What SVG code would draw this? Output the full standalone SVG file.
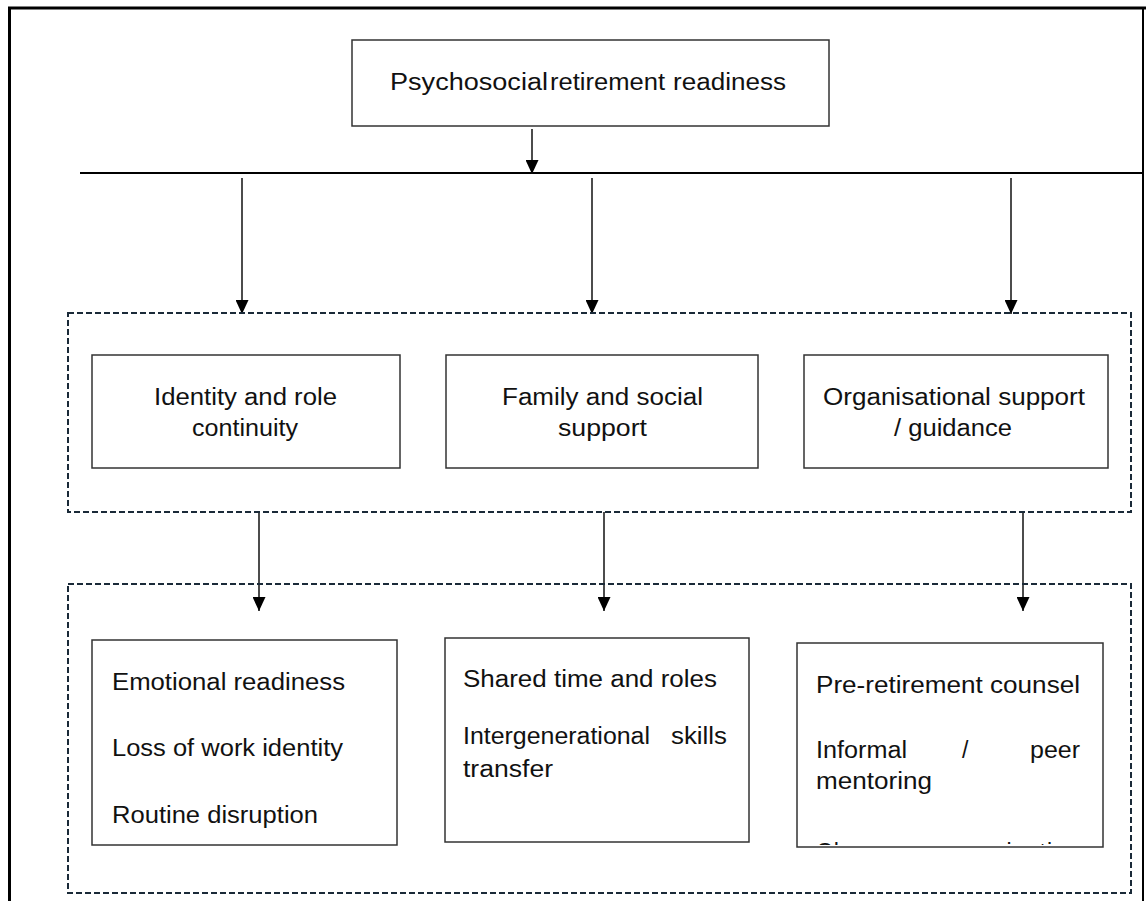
<svg xmlns="http://www.w3.org/2000/svg" width="1146" height="901" viewBox="0 0 1146 901">
<style>
.t{font-family:"Liberation Sans",Arial,sans-serif;font-size:23px;fill:#111}
.box{fill:#fff;stroke:#333;stroke-width:1.5}
.grp{fill:none;stroke:#1a2a38;stroke-width:2;stroke-dasharray:6 3}
.ln{stroke:#111;stroke-width:1.5;fill:none}
</style>
<defs>
<marker id="ah" markerUnits="userSpaceOnUse" markerWidth="14" markerHeight="13" viewBox="0 0 14 13" refX="14" refY="6.5" orient="auto">
<path d="M0,0 L14,6.5 L0,13 z" fill="#000"/>
</marker>
<clipPath id="clipC"><rect x="797" y="643" width="306" height="202"/></clipPath>
</defs>
<rect width="1146" height="901" fill="#fff"/>
<g id="frame">
<line x1="9.5" y1="7" x2="9.5" y2="901" stroke="#000" stroke-width="3"/>
<line x1="8" y1="8" x2="1146" y2="8" stroke="#000" stroke-width="3"/>
<line x1="1143" y1="7" x2="1143" y2="901" stroke="#000" stroke-width="2"/>
</g>
<g id="top">
<rect class="box" x="352" y="40" width="477" height="86"/>
<text class="t" x="390" y="90" textLength="158" lengthAdjust="spacingAndGlyphs">Psychosocial</text>
<text class="t" x="550" y="90" textLength="115" lengthAdjust="spacingAndGlyphs">retirement</text>
<text class="t" x="673" y="90" textLength="113" lengthAdjust="spacingAndGlyphs">readiness</text>
</g>
<g id="connectors">
<line x1="80" y1="173" x2="1143" y2="173" stroke="#000" stroke-width="2"/>
<line class="ln" x1="532" y1="129" x2="532" y2="174" marker-end="url(#ah)"/>
<line class="ln" x1="242" y1="178" x2="242" y2="314" marker-end="url(#ah)"/>
<line class="ln" x1="592" y1="178" x2="592" y2="314" marker-end="url(#ah)"/>
<line class="ln" x1="1011" y1="178" x2="1011" y2="314" marker-end="url(#ah)"/>
<line class="ln" x1="259" y1="512" x2="259" y2="611" marker-end="url(#ah)"/>
<line class="ln" x1="604" y1="512" x2="604" y2="611" marker-end="url(#ah)"/>
<line class="ln" x1="1023" y1="512" x2="1023" y2="611" marker-end="url(#ah)"/>
</g>
<g id="group1">
<rect class="grp" x="68" y="313" width="1063" height="199"/>
</g>
<g id="group2">
<rect class="grp" x="68" y="584" width="1063" height="309"/>
</g>
<g id="identity">
<rect class="box" x="92" y="355" width="308" height="113"/>
<text class="t" x="154" y="405" textLength="183" lengthAdjust="spacingAndGlyphs">Identity and role</text>
<text class="t" x="192" y="436" textLength="106" lengthAdjust="spacingAndGlyphs">continuity</text>
</g>
<g id="family">
<rect class="box" x="446" y="355" width="312" height="113"/>
<text class="t" x="502" y="405" textLength="201" lengthAdjust="spacingAndGlyphs">Family and social</text>
<text class="t" x="558" y="436" textLength="89" lengthAdjust="spacingAndGlyphs">support</text>
</g>
<g id="organisational">
<rect class="box" x="804" y="355" width="304" height="113"/>
<text class="t" x="823" y="405" textLength="262" lengthAdjust="spacingAndGlyphs">Organisational support</text>
<text class="t" x="894" y="436" textLength="118" lengthAdjust="spacingAndGlyphs">/ guidance</text>
</g>
<g id="emotional">
<rect class="box" x="92" y="640" width="305" height="205"/>
<text class="t" x="112" y="690" textLength="233" lengthAdjust="spacingAndGlyphs">Emotional readiness</text>
<text class="t" x="112" y="756" textLength="231" lengthAdjust="spacingAndGlyphs">Loss of work identity</text>
<text class="t" x="112" y="823" textLength="206" lengthAdjust="spacingAndGlyphs">Routine disruption</text>
</g>
<g id="shared">
<rect class="box" x="445" y="638" width="304" height="204"/>
<text class="t" x="463" y="687" textLength="254" lengthAdjust="spacingAndGlyphs">Shared time and roles</text>
<text class="t" x="463" y="744" textLength="187" lengthAdjust="spacingAndGlyphs">Intergenerational</text>
<text class="t" x="671" y="744" textLength="56" lengthAdjust="spacingAndGlyphs">skills</text>
<text class="t" x="463" y="777" textLength="90" lengthAdjust="spacingAndGlyphs">transfer</text>
</g>
<g id="counsel">
<rect class="box" x="797" y="643" width="306" height="204"/>
<text class="t" x="816" y="693" textLength="264" lengthAdjust="spacingAndGlyphs">Pre-retirement counsel</text>
<text class="t" x="816" y="758" textLength="91" lengthAdjust="spacingAndGlyphs">Informal</text>
<text class="t" x="962" y="758">/</text>
<text class="t" x="1030" y="758" textLength="50" lengthAdjust="spacingAndGlyphs">peer</text>
<text class="t" x="816" y="789" textLength="116" lengthAdjust="spacingAndGlyphs">mentoring</text>
<text class="t" x="816" y="860" clip-path="url(#clipC)" textLength="264" lengthAdjust="spacing">Change communication</text>
</g>
</svg>
